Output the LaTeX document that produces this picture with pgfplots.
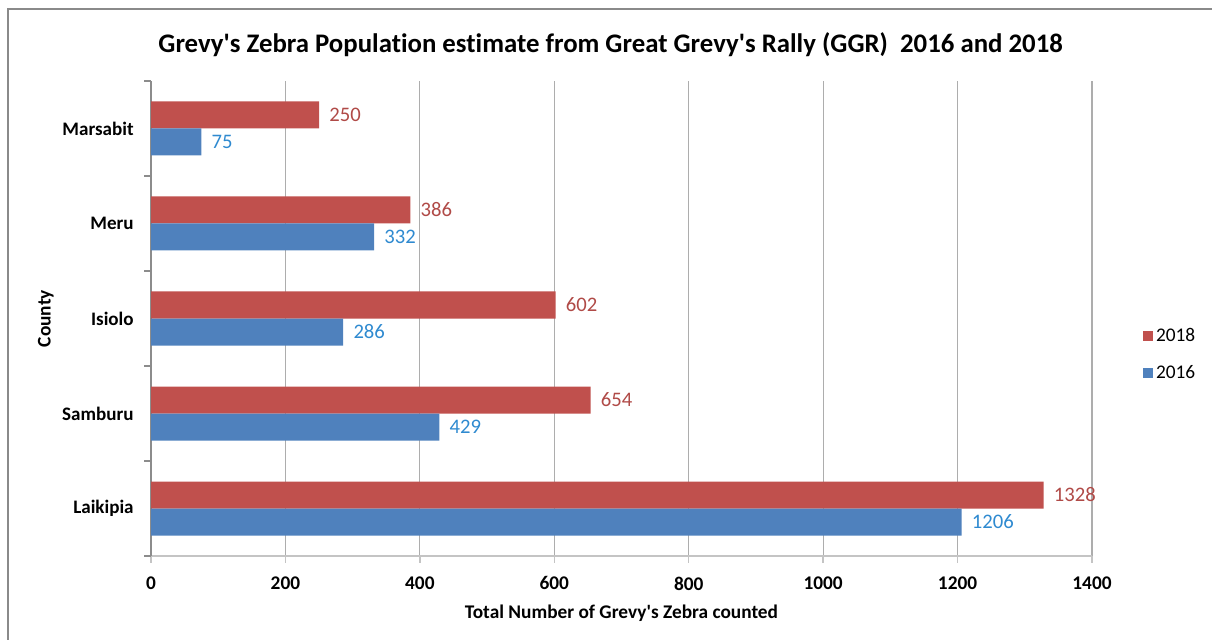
\documentclass[border=0pt]{standalone}
\usepackage{pgfplots}
\pgfplotsset{compat=1.18}
\usepackage{pgfplotstable}
\usepackage{fontspec}
\setmainfont{Carlito}[Ligatures=NoCommon]

\definecolor{bar18}{HTML}{C0504D}
\definecolor{bar16}{HTML}{4F81BD}
\definecolor{lab18}{HTML}{B04A47}
\definecolor{lab16}{HTML}{2F8AD0}
\definecolor{gridgray}{HTML}{ADADAD}
\definecolor{axisgray}{HTML}{C4C4C4}
\definecolor{leftgray}{HTML}{8C8C8C}
\definecolor{framegray}{HTML}{8A8A8A}

% Grevy's zebra counts per county (0 = Laikipia ... 4 = Marsabit)
\pgfplotstableread{
idx y2016 y2018
0 1206 1328
1 429 654
2 286 602
3 332 386
4 75 250
}\counties

\newcommand{\apos}{\textquotesingle}

\begin{document}
\begin{tikzpicture}
\useasboundingbox (0,0) rectangle (909pt,479.25pt);
\draw[framegray, line width=1.5pt] (6pt,-10pt) -- (6pt,472.5pt) -- (925pt,472.5pt);
\node[font=\bfseries\fontsize{20.1}{22}\selectfont] at (458pt,445.5pt)
  {Grevy\apos s Zebra Population estimate from Great Grevy\apos s Rally (GGR)\ \ 2016 and 2018};
\begin{axis}[
  at={(113.25pt,62.25pt)}, anchor=south west,
  scale only axis, width=705.75pt, height=356.25pt,
  xbar, bar width=20.25pt,
  xmin=0, xmax=1400, xtick={0,200,...,1400},
  ymin=-0.5, ymax=4.5,
  ytick={-0.5,0.5,...,4.5}, yticklabels={},
  extra y ticks={0,1,2,3,4},
  extra y tick labels={Laikipia,Samburu,Isiolo,Meru,Marsabit},
  extra y tick style={major tick length=0pt, yticklabel style={xshift=-9.5pt}},
  axis x line*=bottom, axis y line*=left,
  axis line style={-},
  x axis line style={axisgray, line width=1.5pt},
  y axis line style={leftgray, line width=0.8pt},
  tick align=outside, major tick length=5pt,
  xtick style={axisgray, line width=1pt},
  ytick style={leftgray, line width=0.8pt},
  xmajorgrids, major grid style={gridgray, line width=0.8pt},
  /pgf/number format/assume math mode=true,
  /pgf/number format/1000 sep={},
  ticklabel style={font=\bfseries\fontsize{14.5}{16}\selectfont, black},
  yticklabel style={font=\bfseries\fontsize{14.3}{16}\selectfont},
  xticklabel style={yshift=-7pt},
  xlabel={Total Number of Grevy\apos s Zebra counted},
  ylabel={County},
  label style={font=\bfseries\fontsize{14.5}{16}\selectfont},
  xlabel style={yshift=-4.5pt},
  ylabel style={yshift=-5.5pt},
  legend style={at={(1.05,0.425)}, anchor=west, draw=none, fill=none,
    font=\fontsize{14.5}{16}\selectfont, row sep=12.5pt,
    /tikz/every even column/.append style={column sep=5.5pt}},
  legend cell align=left,
  legend image code/.code={\fill[#1] (0pt,-3.75pt) rectangle (7.5pt,3.75pt);},
  nodes near coords,
  nodes near coords style={anchor=west, inner sep=0pt, xshift=7.5pt,
    font=\fontsize{15.5}{18}\selectfont},
]
\addplot[fill=bar18, draw=none, bar shift=10.125pt,
  nodes near coords style={text=lab18}] table[x=y2018, y=idx] {\counties};
\addlegendentry{2018}
\addplot[fill=bar16, draw=none, bar shift=-10.125pt,
  nodes near coords style={text=lab16}] table[x=y2016, y=idx] {\counties};
\addlegendentry{2016}
\end{axis}
\end{tikzpicture}
\end{document}
